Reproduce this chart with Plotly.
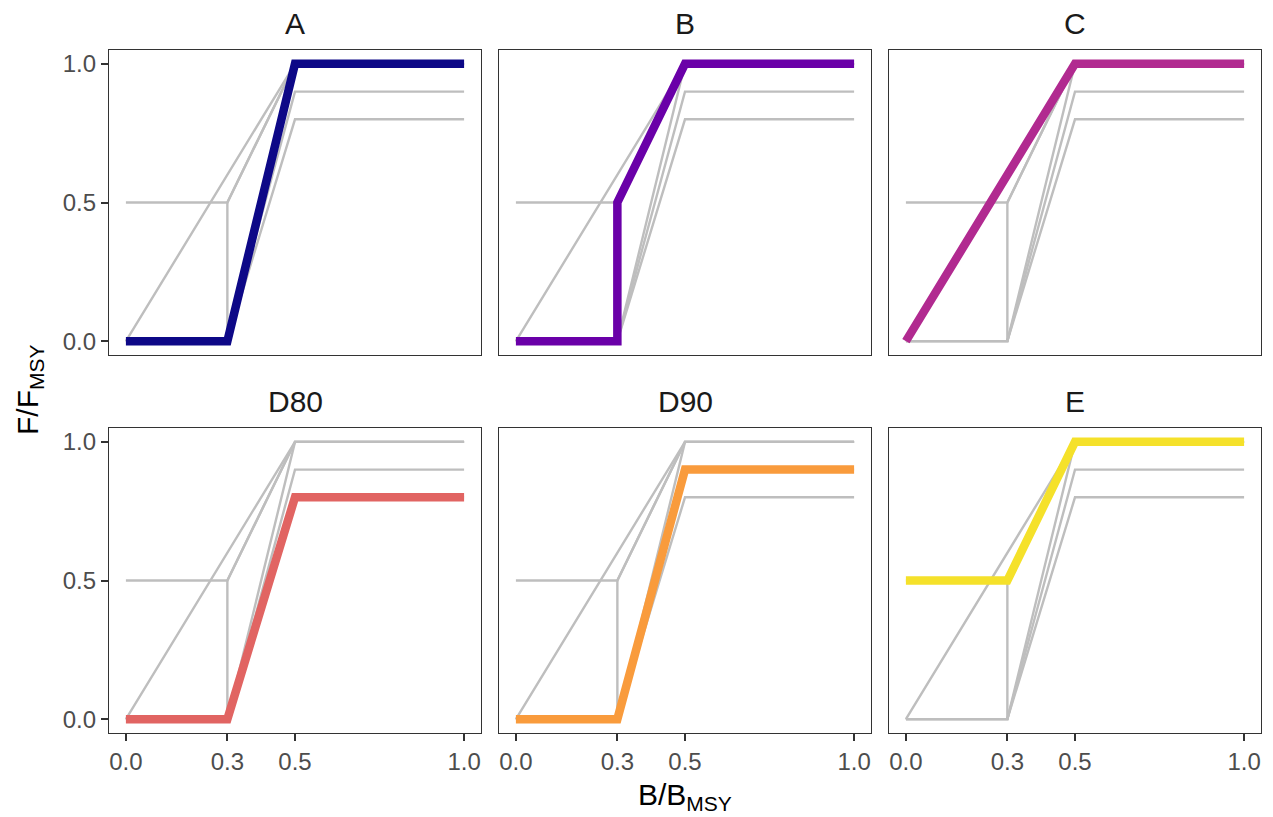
import plotly.graph_objects as go

# page body has an 8px margin, so the figure is drawn offset by 8px
OFF = 8
W, H = 1273 - OFF, 817 - OFF

rules = ["A", "B", "C", "D80", "D90", "E"]
b_vals = {
    "A": [0.0, 0.3, 0.5, 1.0],
    "B": [0.0, 0.3, 0.3, 0.5, 1.0],
    "C": [0.0, 0.5, 1.0],
    "D80": [0.0, 0.3, 0.5, 1.0],
    "D90": [0.0, 0.3, 0.5, 1.0],
    "E": [0.0, 0.3, 0.5, 1.0],
}
f_vals = {
    "A": [0.0, 0.0, 1.0, 1.0],
    "B": [0.0, 0.0, 0.5, 1.0, 1.0],
    "C": [0.0, 1.0, 1.0],
    "D80": [0.0, 0.0, 0.8, 0.8],
    "D90": [0.0, 0.0, 0.9, 0.9],
    "E": [0.5, 0.5, 1.0, 1.0],
}
colors = ["#0D0887", "#6A00A8", "#B12A90", "#E16462", "#F99B3C", "#F5E12A"]
x_ticks = [0.0, 0.3, 0.5, 1.0]
x_tick_text = ["0.0", "0.3", "0.5", "1.0"]
y_ticks = [0.0, 0.5, 1.0]
y_tick_text = ["0.0", "0.5", "1.0"]

FONT = "Liberation Sans, Arial, sans-serif"

# panel pixel boxes (reference page pixels)
col_left = [109, 499, 889]
panel_w = 372
row_top = [50, 428]
panel_h = 305


def px_x(p):
    return (p - OFF) / W


def px_y(p):
    return 1 - (p - OFF) / H


fig = go.Figure()
layout = {}
annotations = []

for i, rule in enumerate(rules):
    r, c = divmod(i, 3)
    idx = i + 1
    xa = "x" if idx == 1 else f"x{idx}"
    ya = "y" if idx == 1 else f"y{idx}"
    for other in rules:
        fig.add_trace(go.Scatter(
            x=b_vals[other], y=f_vals[other], mode="lines",
            line=dict(color="#BEBEBE", width=2.4),
            xaxis=xa, yaxis=ya, showlegend=False, hoverinfo="skip"))
    fig.add_trace(go.Scatter(
        x=b_vals[rule], y=f_vals[rule], mode="lines",
        line=dict(color=colors[i], width=8.5),
        xaxis=xa, yaxis=ya, showlegend=False, name=rule))

    x0 = px_x(col_left[c])
    x1 = px_x(col_left[c] + panel_w)
    y1 = px_y(row_top[r])
    y0 = px_y(row_top[r] + panel_h)
    common = dict(showline=True, linecolor="#333333", linewidth=1.3, mirror=True,
                  showgrid=False, zeroline=False, ticklen=7,
                  tickwidth=2.2, tickcolor="#333333",
                  tickfont=dict(family=FONT, size=24, color="#4D4D4D"),
                  range=[-0.05, 1.05], fixedrange=True)
    layout["xaxis" if idx == 1 else f"xaxis{idx}"] = dict(
        common, domain=[x0, x1], anchor=ya, tickvals=x_ticks,
        ticktext=x_tick_text, showticklabels=(r == 1),
        ticks="outside" if r == 1 else "")
    layout["yaxis" if idx == 1 else f"yaxis{idx}"] = dict(
        common, domain=[y0, y1], anchor=xa, tickvals=y_ticks,
        ticktext=y_tick_text, showticklabels=(c == 0),
        ticks="outside" if c == 0 else "")
    annotations.append(dict(
        text=rule, x=(x0 + x1) / 2, y=px_y(row_top[r] - 27),
        xref="paper", yref="paper", showarrow=False,
        font=dict(family=FONT, size=30, color="#1A1A1A"),
        xanchor="center", yanchor="middle"))

annotations.append(dict(
    text="B/B<sub>MSY</sub>", x=px_x((109 + 889 + panel_w) / 2), y=px_y(796),
    xref="paper", yref="paper", showarrow=False,
    font=dict(family=FONT, size=30, color="#000000"),
    xanchor="center", yanchor="middle"))
annotations.append(dict(
    text="F/F<sub>MSY</sub>", x=px_x(30), y=px_y(390),
    xref="paper", yref="paper", showarrow=False, textangle=-90,
    font=dict(family=FONT, size=30, color="#000000"),
    xanchor="center", yanchor="middle"))

fig.update_layout(
    width=W, height=H,
    margin=dict(l=0, r=0, t=0, b=0),
    paper_bgcolor="white", plot_bgcolor="white",
    annotations=annotations,
    **layout)

fig.write_html("out.html")
